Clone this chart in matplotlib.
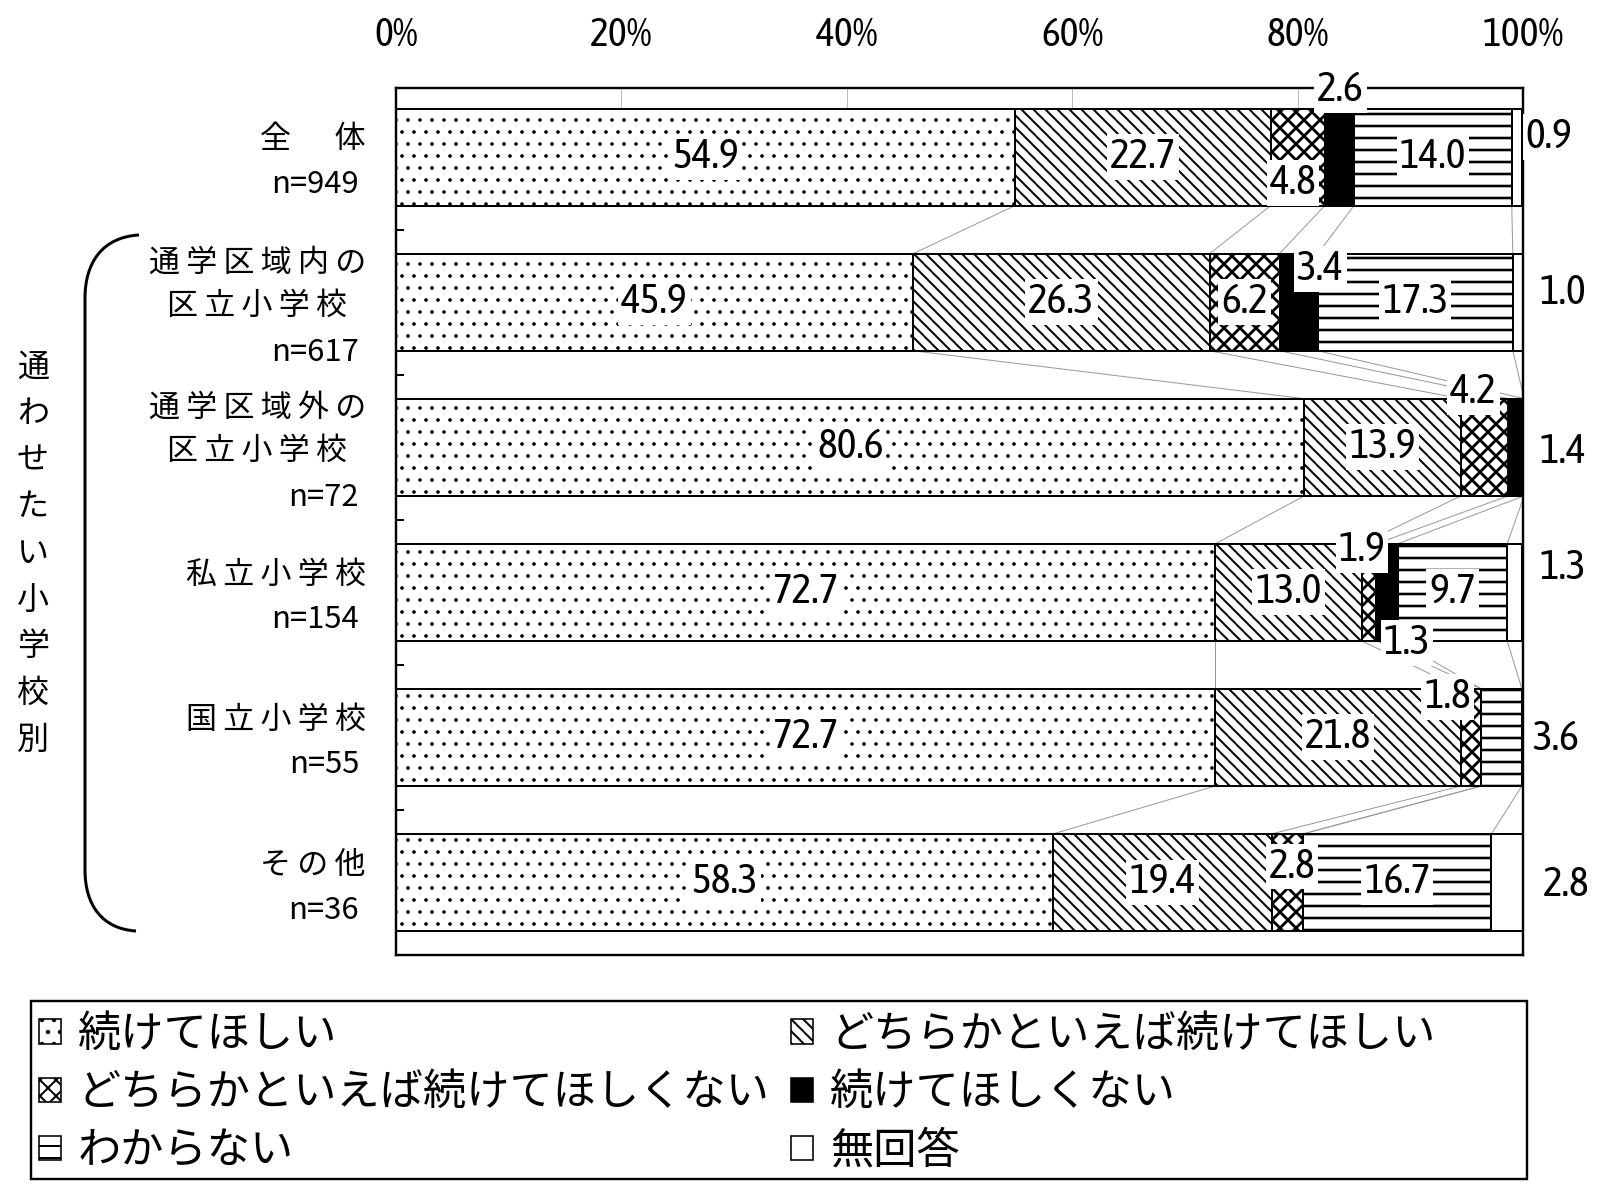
import numpy as np
import matplotlib
matplotlib.use('Agg')
import matplotlib.pyplot as plt
import matplotlib.transforms as mtransforms
from matplotlib.patches import Patch, Rectangle, PathPatch
from matplotlib.path import Path

plt.rcParams['font.family'] = ['Noto Sans CJK JP', 'DejaVu Sans']
NARROW = ['Asap Condensed', 'Archivo Narrow', 'DejaVu Sans']

# data
groups = ['全　体', '通学区域内の\n区立小学校', '通学区域外の\n区立小学校',
          '私立小学校', '国立小学校', 'その他']
counts = ['n=949', 'n=617', 'n=72', 'n=154', 'n=55', 'n=36']
answers = ['続けてほしい', 'どちらかといえば続けてほしい',
           'どちらかといえば続けてほしくない', '続けてほしくない',
           'わからない', '無回答']
side_label = '通わせたい小学校別'

keep = [54.9, 45.9, 80.6, 72.7, 72.7, 58.3]
rather_keep = [22.7, 26.3, 13.9, 13.0, 21.8, 19.4]
rather_stop = [4.8, 6.2, 4.2, 1.3, 1.8, 2.8]
stop = [2.6, 3.4, 1.4, 1.9, 0.0, 0.0]
unknown = [14.0, 17.3, 0.0, 9.7, 3.6, 16.7]
no_answer = [0.9, 1.0, 0.0, 1.3, 0.0, 2.8]
xticks = [0, 20, 40, 60, 80, 100]

series = [keep, rather_keep, rather_stop, stop, unknown, no_answer]

# style
faces = ['white', 'white', 'white', 'black', 'white', 'white']
hatches = ['..', '\\\\\\\\', 'xxx', None, '--', None]
hatch_lw = [0.6, 1.0, 1.4, 0.5, 1.3, 0.5]
bar_h = 0.67

# where small segments get their number (x in %, y shift in rows)
label_at = {
    (0, 2): (79.6, 0.18), (0, 3): (83.8, -0.46), (0, 5): (102.3, -0.14),
    (1, 3): (82.0, -0.23), (1, 5): (103.5, -0.06),
    (2, 2): (95.6, -0.38), (2, 3): (103.5, 0.03),
    (3, 2): (89.7, 0.35), (3, 3): (85.7, -0.29), (3, 5): (103.5, -0.17),
    (4, 2): (93.3, -0.28), (4, 4): (102.9, 0.01),
    (5, 2): (79.5, -0.11), (5, 5): (103.8, 0.02),
}

W, H = 1614, 1199
fig = plt.figure(figsize=(W / 144, H / 144), dpi=144)
ax = fig.add_axes([396 / W, 1 - 955 / H, (1523 - 396) / W, (955 - 87.5) / H])

y = np.arange(len(groups))
vals = np.array(series)
right = np.cumsum(vals, axis=0)
left = right - vals

for k in range(len(series)):
    bars = ax.barh(y, vals[k], left=left[k], height=bar_h, color=faces[k],
                   edgecolor='black', linewidth=1.0, hatch=hatches[k], zorder=2)
    for b in bars:
        if hasattr(b, 'set_hatch_linewidth'):
            b.set_hatch_linewidth(hatch_lw[k])

# series lines between bars
for i in range(len(groups) - 1):
    for k in range(len(series) - 1):
        ax.plot([right[k, i], right[k, i + 1]],
                [i + bar_h / 2, i + 1 - bar_h / 2],
                color='#999999', lw=0.5, zorder=1)

# value labels
for i in range(len(groups)):
    for k in range(len(series)):
        v = vals[k, i]
        if v <= 0:
            continue
        if (i, k) in label_at:
            xx, dy = label_at[(i, k)]
        else:
            xx, dy = left[k, i] + v / 2, 0
        ax.text(xx, i + dy, f'{v:.1f}', ha='center', va='center',
                fontsize=21, family=NARROW, zorder=5,
                bbox=dict(facecolor='white', edgecolor='none', pad=1.5))

ax.set_xlim(0, 100)
ax.set_ylim(len(groups) - 0.5, -0.48)
ax.xaxis.tick_top()
ax.set_xticks(xticks)
ax.set_xticklabels([f'{t}%' for t in xticks], family=NARROW, fontsize=20)
ax.tick_params(axis='x', length=0, pad=17)
ax.set_yticks(y[:-1] + 0.5)
ax.set_yticklabels([])
ax.tick_params(axis='y', direction='in', length=4, width=1)
ax.vlines(xticks[1:-1], -0.48, -bar_h / 2, color='#bbbbbb', lw=0.5, zorder=1)
for s in ax.spines.values():
    s.set_linewidth(1.2)

# category labels
tr = mtransforms.blended_transform_factory(fig.transFigure, ax.transData)
pitch = 0.31
for i, (g, n) in enumerate(zip(groups, counts)):
    lines = g.count('\n') + 2
    top = i + 0.035 - (lines - 1) / 2 * pitch
    name_mid = top + (lines - 2) / 2 * pitch
    spaced = '\n'.join('\u2009'.join(line) for line in g.split('\n'))
    ax.text(366 / W, name_mid, spaced, transform=tr, ha='right',
            va='center', multialignment='center', fontsize=15.5,
            linespacing=1.51)
    ax.text(359 / W, top + (lines - 1) * pitch, n, transform=tr,
            ha='right', va='center', fontsize=15.5)

# vertical group label with bracket
for j, ch in enumerate(side_label):
    fig.text(33 / W, 1 - (367.5 + 46.5 * j) / H, ch, ha='center',
             va='center', fontsize=16)
pts = [(139, 235), (103, 237), (85, 262), (85, 298), (85, 870),
       (85, 906), (103, 929), (136, 931)]
codes = [Path.MOVETO, Path.CURVE4, Path.CURVE4, Path.CURVE4, Path.LINETO,
         Path.CURVE4, Path.CURVE4, Path.CURVE4]
bracket = Path([(px / W, 1 - py / H) for px, py in pts], codes)
fig.add_artist(PathPatch(bracket, transform=fig.transFigure, fill=False,
                         lw=1.5, edgecolor='black'))

# legend
handles = []
for k in range(len(series)):
    p = Patch(facecolor=faces[k], edgecolor='black', hatch=hatches[k], lw=0.8)
    if hasattr(p, 'set_hatch_linewidth'):
        p.set_hatch_linewidth(hatch_lw[k])
    handles.append(p)
order = [0, 2, 4, 1, 3, 5]
fig.legend([handles[o] for o in order], [answers[o] for o in order],
           ncol=2, loc='upper left', bbox_to_anchor=(39 / W, 1 - 1013 / H),
           frameon=False, fontsize=21.6, handlelength=0.5, handleheight=0.5,
           handletextpad=0.4, columnspacing=0.5, labelspacing=0.33,
           borderpad=0, borderaxespad=0)
fig.add_artist(Rectangle((31 / W, 1 - 1178.5 / H), (1526.5 - 31) / W,
                         (1178.5 - 1000.5) / H, transform=fig.transFigure,
                         fill=False, lw=1.2, edgecolor='black'))

fig.savefig('out.png', dpi=144, facecolor='white')
